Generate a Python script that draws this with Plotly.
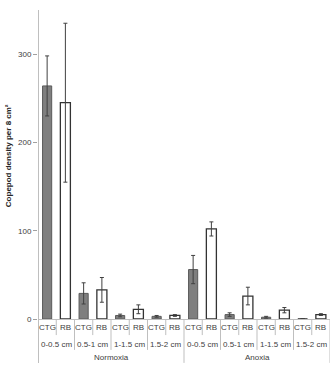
import plotly.graph_objects as go

conditions = ["Normoxia", "Anoxia"]
depths = ["0-0.5 cm", "0.5-1 cm", "1-1.5 cm", "1.5-2 cm"]
methods = ["CTG", "RB"]

# values per condition, per depth, for CTG and RB
ctg_vals = {"Normoxia": [264, 29, 4, 3], "Anoxia": [56, 5, 2, 0.5]}
ctg_err = {"Normoxia": [34, 12, 1.5, 1], "Anoxia": [16, 2, 1, 0]}
rb_vals = {"Normoxia": [245, 33, 11, 4], "Anoxia": [102, 26, 10, 5]}
rb_err = {"Normoxia": [90, 14, 5, 1], "Anoxia": [8, 10, 3, 1]}

y_ticks = [0, 100, 200, 300]
y_title = "Copepod density per 8 cm²"

# build positions
ctg_x, ctg_y, ctg_e = [], [], []
rb_x, rb_y, rb_e = [], [], []
idx = 0
for c in conditions:
    for d in range(len(depths)):
        ctg_x.append(idx); ctg_y.append(ctg_vals[c][d]); ctg_e.append(ctg_err[c][d])
        rb_x.append(idx + 1); rb_y.append(rb_vals[c][d]); rb_e.append(rb_err[c][d])
        idx += 2
n = idx

font = "Liberation Sans, Arial, sans-serif"
txt_col = "#404040"
line_col = "#bfbfbf"

fig = go.Figure()
fig.add_trace(go.Bar(
    x=ctg_x, y=ctg_y, width=0.5,
    marker=dict(color="#7f7f7f", line=dict(color="#5a5a5a", width=1)),
    error_y=dict(type="data", array=ctg_e, visible=True, color="#404040", thickness=1, width=2),
    showlegend=False,
))
fig.add_trace(go.Bar(
    x=rb_x, y=rb_y, width=0.55,
    marker=dict(color="white", line=dict(color="#333333", width=1.3)),
    error_y=dict(type="data", array=rb_e, visible=True, color="#404040", thickness=1, width=2),
    showlegend=False,
))

shapes = []
annotations = []
# row 1 labels and separators
for i in range(n):
    annotations.append(dict(x=i, y=-0.029, xref="x", yref="paper", text=methods[i % 2],
                            showarrow=False, font=dict(size=8, color=txt_col, family=font),
                            xanchor="center", yanchor="middle"))
for b in range(n + 1):
    xb = b - 0.5
    if b % 8 == 0:
        y0 = -0.142
        col, w = line_col, 2 if b == 0 else 1
    elif b % 2 == 0:
        y0 = -0.1
        col, w = line_col, 1
    else:
        y0 = -0.052
        col, w = line_col, 1
    shapes.append(dict(type="line", xref="x", yref="paper", x0=xb, x1=xb, y0=y0,
                       y1=1 if b == 0 else 0, line=dict(color=col, width=w)))
# depth labels
for k in range(len(conditions) * len(depths)):
    annotations.append(dict(x=2 * k + 0.5, y=-0.081, xref="x", yref="paper",
                            text=depths[k % len(depths)], showarrow=False,
                            font=dict(size=8, color=txt_col, family=font),
                            xanchor="center", yanchor="middle"))
# condition labels
for j, c in enumerate(conditions):
    annotations.append(dict(x=8 * j + 3.5, y=-0.126, xref="x", yref="paper", text=c,
                            showarrow=False, font=dict(size=8, color=txt_col, family=font),
                            xanchor="center", yanchor="middle"))
# y title
annotations.append(dict(x=-0.103, y=0.53, xref="paper", yref="paper", text="<b>" + y_title + "</b>",
                        textangle=-90, showarrow=False,
                        font=dict(size=8, color="#262626", family=font),
                        xanchor="center", yanchor="middle"))

fig.update_layout(
    width=335, height=372,
    margin=dict(l=38, r=5, t=10, b=53),
    plot_bgcolor="white", paper_bgcolor="white",
    barmode="overlay",
    shapes=shapes, annotations=annotations,
    xaxis=dict(range=[-0.5, n - 0.5], showticklabels=False, ticks="", showgrid=False,
               zeroline=False, showline=True, linecolor=line_col, linewidth=1, fixedrange=True),
    yaxis=dict(range=[0, 350], tickvals=y_ticks, ticks="outside", ticklen=4, tickcolor="#a0a0a0",
               tickfont=dict(size=8, color=txt_col, family=font), showgrid=False, zeroline=False,
               showline=False),
)

fig.write_html("out.html")
